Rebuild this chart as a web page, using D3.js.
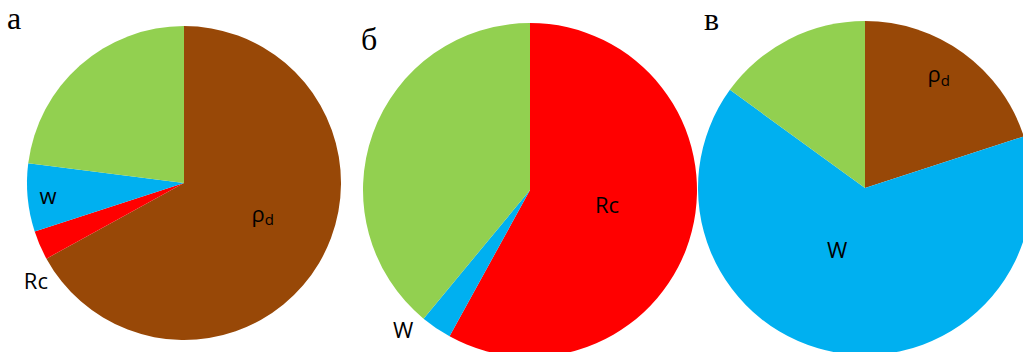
<!DOCTYPE html>
<html>
<head>
<meta charset="utf-8">
<script src="https://cdn.jsdelivr.net/npm/d3@7"></script>
<style>
  body { margin: 0; background: #fff; }
  svg { display: block; }
</style>
</head>
<body>
<div id="chart"></div>
<script>
// categories, clockwise from 12 o'clock
const categories = ["rho_d", "Rc", "w", "other"];
// shares (%)
const valuesA = [67, 3, 7, 23];
const valuesB = [0, 58, 3, 39];
const valuesC = [20, 0, 65, 15];
// panel letters
const panelLetters = ["а", "б", "в"];
// text of slice labels per panel (null = no label)
const labelsA = ["ρd", "Rc", "w", null];
const labelsB = [null, "Rc", "W", null];
const labelsC = ["ρd", null, "W", null];

const width = 1023, height = 352;

const color = d3.scaleOrdinal()
  .domain(categories)
  .range(["#984807", "#ff0000", "#00b0f0", "#92d050"]);

// layout of each panel: center, radius, letter position, label placement
// label placement: k = fraction of radius, da = degrees off slice mid-angle
const panels = [
  {values: valuesA, labels: labelsA, cx: 184, cy: 183, r: 157, lx: 7, ly: 29,
   place: [{k: 0.54, da: -9}, {k: 1.13, da: -10}, {k: 0.87, da: 0}, null]},
  {values: valuesB, labels: labelsB, cx: 530, cy: 190, r: 167, lx: 361, ly: 50,
   place: [null, {k: 0.47, da: -3}, {k: 1.13, da: 8}, null]},
  {values: valuesC, labels: labelsC, cx: 865, cy: 188, r: 167, lx: 704, ly: 30,
   place: [{k: 0.81, da: -3}, null, {k: 0.41, da: 15}, null]}
];

const svg = d3.select("#chart")
  .append("svg")
    .attr("width", width)
    .attr("height", height);

svg.append("rect").attr("width", width).attr("height", height).attr("fill", "#fff");

const pie = d3.pie().sort(null).value(d => d.value);

panels.forEach(function(p, pi) {
  const g = svg.append("g")
    .attr("transform", `translate(${p.cx},${p.cy})`);

  const rows = categories.map((c, i) => ({key: c, value: p.values[i], label: p.labels[i], place: p.place[i]}));
  const arcs = pie(rows);
  const arc = d3.arc().innerRadius(0).outerRadius(p.r);

  g.selectAll("path")
    .data(arcs.filter(d => d.data.value > 0))
    .join("path")
      .attr("d", arc)
      .attr("fill", d => color(d.data.key));

  // slice labels
  const lab = g.selectAll("text")
    .data(arcs.filter(d => d.data.label))
    .join("text")
      .attr("transform", function(d) {
        const a = (d.startAngle + d.endAngle) / 2 + d.data.place.da * Math.PI / 180;
        const rr = d.data.place.k * p.r;
        return `translate(${rr * Math.sin(a)},${-rr * Math.cos(a)})`;
      })
      .attr("text-anchor", "middle")
      .attr("dy", "0.36em")
      .style("font-family", "'Open Sans', sans-serif")
      .style("font-size", "22px")
      .style("fill", "#000");

  lab.each(function(d) {
    const t = d3.select(this);
    if (d.data.label === "ρd") {
      t.append("tspan").text("ρ");
      t.append("tspan").text("d").attr("dy", "0.22em").style("font-size", "15px");
    } else {
      t.text(d.data.label);
    }
  });

  // panel letter
  svg.append("text")
    .attr("x", p.lx)
    .attr("y", p.ly)
    .text(panelLetters[pi])
    .style("font-family", "'Liberation Serif', 'Times New Roman', serif")
    .style("font-size", "32px")
    .style("fill", "#000");
});
</script>
</body>
</html>
